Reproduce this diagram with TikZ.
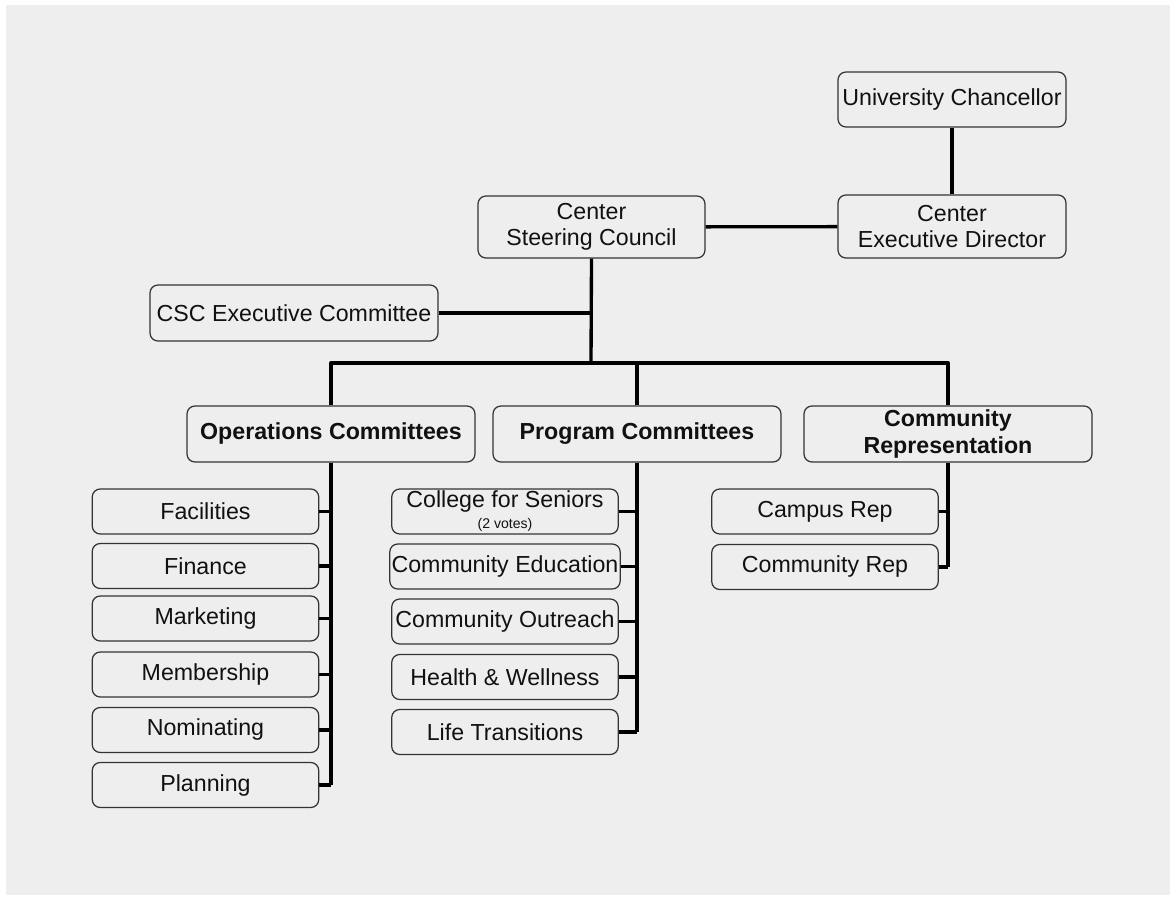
\documentclass[tikz,border=0pt]{standalone}
\usepackage{fontspec}
\setmainfont{Liberation Sans}
\definecolor{bggray}{HTML}{EEEEEE}
\definecolor{ink}{HTML}{111111}
\begin{document}
\begin{tikzpicture}[x=0.02cm, y=-0.02cm, line join=round,
    font=\fontsize{13.2}{15}\selectfont, text=ink,
    box/.style={draw=black!80, line width=0.7pt, rounded corners=4.5pt, fill=bggray,
        align=center, inner xsep=1pt, inner ysep=0pt},
    top/.style={box, minimum width=4.56cm, minimum height=1.1cm},
    mid/.style={box, minimum width=4.54cm, minimum height=1.24cm},
    head/.style={box, minimum width=5.76cm, minimum height=1.12cm, font=\fontsize{13.2}{15}\selectfont\bfseries},
    sub/.style={box, minimum width=4.53cm, minimum height=0.9cm},
    link/.style={line width=1.9pt, black}]
    \useasboundingbox (0,0) rectangle (1170,905);
    \fill[white] (0,0) rectangle (1170,905);
    \fill[bggray] (6,5) rectangle (1170,895);

    \node[top] (uc) at (952,99.5) {University Chancellor};
    \node[top, minimum height=1.26cm] (ced) at (952,226.5) {Center\\Executive Director};
    \node[mid] (csc) at (591.5,227) {Center\\Steering Council};
    \node[box, minimum width=5.76cm, minimum height=1.12cm] (cscx) at (294,313) {CSC Executive Committee};
    \node[head] (ops) at (331,434) {Operations Committees};
    \node[head] (prog) at (637,434) {Program Committees};
    \node[head] (rep) at (948,434) {Community\\Representation};
    \coordinate (bus) at (591,363);

    \foreach \n/\t/\y in {fac/Facilities/511.5, fin/Finance/566, mar/Marketing/618.5,
        mem/Membership/674.5, nom/Nominating/730, pla/Planning/785}
        \node[sub] (\n) at (205.5,\y) {\t};
    \node[sub] (cfs) at (505,511.5) {College for Seniors\\[-3pt]{\fontsize{8}{9}\selectfont (2 votes)}};
    \foreach \n/\t/\y in {ced2/Community Education/566.5, cout/Community Outreach/621.5,
        hw/Health \& Wellness/677, lt/Life Transitions/732}
        \node[sub] (\n) at (505,\y) {\t};
    \node[sub] (camp) at (825,511.5) {Campus Rep};
    \node[sub] (crep) at (825,567) {Community Rep};

    \draw[link] (uc) -- (ced);
    \draw[link] (csc) -- (ced);
    \draw[link] (csc.south) -- (bus);
    \draw[link] (cscx.east) -- (cscx.east -| bus);
    \draw[link] (ops.north) |- (bus) -| (rep.north);
    \draw[link] (prog.north) -- (prog.north |- bus);
    \draw[link] (ops.south) -- (ops.south |- pla.east);
    \draw[link] (prog.south) -- (prog.south |- lt.east);
    \draw[link] (rep.south) -- (rep.south |- crep.east);
    \foreach \n in {fac,fin,mar,mem,nom,pla}
        \draw[link] (\n.east) -- (\n.east -| ops.south);
    \foreach \n in {cfs,ced2,cout,hw,lt}
        \draw[link] (\n.east) -- (\n.east -| prog.south);
    \foreach \n in {camp,crep}
        \draw[link] (\n.east) -- (\n.east -| rep.south);
\end{tikzpicture}
\end{document}
